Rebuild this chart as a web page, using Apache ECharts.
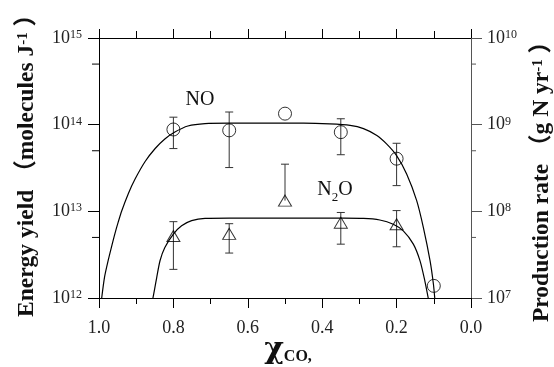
<!DOCTYPE html>
<html>
<head>
<meta charset="utf-8">
<script src="https://cdn.jsdelivr.net/npm/echarts@6/dist/echarts.min.js"></script>
<style>
  html, body { margin: 0; padding: 0; background: #fff; }
  #chart { width: 554px; height: 367px; }
</style>
</head>
<body>
<div id="chart"></div>
<script>
// measured points (x = mole fraction of CO)
var noX = [0.8, 0.65, 0.5, 0.35, 0.2, 0.1];
var noY = [8.8e13, 8.6e13, 1.34e14, 8.2e13, 4.05e13, 1.38e12];
var noHigh = [1.22e14, 1.4e14, null, 1.17e14, 6.1e13, null];
var noLow = [5.3e13, 3.2e13, null, 4.5e13, 1.98e13, null];

var n2oX = [0.8, 0.65, 0.5, 0.35, 0.2];
var n2oY = [5.2e12, 5.5e12, 1.33e13, 7.4e12, 7.1e12];
var n2oHigh = [7.6e12, 7.2e12, 3.5e13, 9.7e12, 1.02e13];
var n2oLow = [2.14e12, 3.3e12, null, 4.18e12, 3.9e12];

// fitted curves
var noFitX = [0.993, 0.985, 0.975, 0.966, 0.957, 0.948, 0.939, 0.921, 0.903, 0.876, 0.849, 0.823, 0.796, 0.761, 0.715, 0.65, 0.55, 0.45, 0.38, 0.325, 0.289, 0.253, 0.227, 0.2, 0.173, 0.146, 0.128, 0.11, 0.101, 0.097];
var noFitY = [9.8e11, 1.75e12, 2.75e12, 3.95e12, 5.58e12, 7.6e12, 1.01e13, 1.61e13, 2.36e13, 3.76e13, 5.31e13, 6.84e13, 8.23e13, 9.66e13, 1.03e14, 1.04e14, 1.04e14, 1.04e14, 1.02e14, 9.8e13, 9.0e13, 7.5e13, 6.0e13, 4.4e13, 2.7e13, 1.33e13, 6.5e12, 2.68e12, 1.44e12, 9.5e11];

var n2oFitX = [0.856, 0.85, 0.845, 0.836, 0.823, 0.8, 0.778, 0.751, 0.715, 0.65, 0.5, 0.35, 0.289, 0.245, 0.209, 0.182, 0.155, 0.137, 0.124, 0.114];
var n2oFitY = [9.5e11, 1.3e12, 1.71e12, 2.69e12, 3.82e12, 5.46e12, 6.8e12, 7.8e12, 8.3e12, 8.36e12, 8.36e12, 8.35e12, 8.3e12, 7.95e12, 7.1e12, 5.95e12, 4.18e12, 2.68e12, 1.57e12, 9.5e11];

// minor ticks at 5 x 10^n on both y axes
var leftMinorTicks = [5e12, 5e13, 5e14];
var rightMinorTicks = [5e7, 5e8, 5e9];

var FONT = 'Liberation Serif';
var TITLE_FONT = '"Liberation Serif", "Noto Sans CJK JP"';

function pairs(xs, ys) {
  return xs.map(function (x, i) { return [x, ys[i]]; });
}
function withErr(xs, ys, hi, lo) {
  var out = [];
  for (var i = 0; i < xs.length; i++) {
    if (hi[i] != null) out.push([xs[i], ys[i], hi[i], lo[i]]);
  }
  return out;
}
function powLabel(v) {
  var e = Math.round(Math.log(v) / Math.LN10);
  return '{b|10}{s|' + e + '}';
}
var powRich = {
  b: { fontFamily: FONT, fontSize: 18, color: '#222', lineHeight: 18 },
  s: { fontFamily: FONT, fontSize: 12, color: '#222', verticalAlign: 'top', lineHeight: 12 }
};

function errorBar(params, api) {
  var x = api.value(0), y = api.value(1), hi = api.value(2), lo = api.value(3);
  var noLow = (lo == null || isNaN(lo));
  var top = api.coord([x, hi]);
  var bot = api.coord([x, noLow ? y : lo]);
  var st = { stroke: '#333', lineWidth: 1 };
  var kids = [
    { type: 'line', shape: { x1: top[0], y1: top[1], x2: bot[0], y2: bot[1] }, style: st },
    { type: 'line', shape: { x1: top[0] - 4, y1: top[1], x2: top[0] + 4, y2: top[1] }, style: st }
  ];
  if (!noLow) {
    kids.push({ type: 'line', shape: { x1: bot[0] - 4, y1: bot[1], x2: bot[0] + 4, y2: bot[1] }, style: st });
  }
  return { type: 'group', children: kids };
}

// short outward tick at the grid edge; x=1 is the left edge (inverse axis), x=0 the right
function minorTick(len, color) {
  return function (params, api) {
    var edge = api.value(0), v = api.value(1);
    var p = api.coord([edge, v]);
    var dir = edge > 0.5 ? -1 : 1;
    return {
      type: 'line',
      shape: { x1: p[0], y1: p[1], x2: p[0] + dir * len, y2: p[1] },
      style: { stroke: color, lineWidth: 1 }
    };
  };
}

var myChart = echarts.init(document.getElementById('chart'));

var option = {
  backgroundColor: '#fff',
  animation: false,
  grid: { left: 99, right: 83, top: 38, bottom: 69 },
  xAxis: [{
    type: 'value', position: 'bottom', min: 0, max: 1, interval: 0.2, inverse: true,
    axisLine: { onZero: false, lineStyle: { color: '#000', width: 1 } },
    axisTick: { length: 10, lineStyle: { color: '#000' } },
    minorTick: { show: true, splitNumber: 2, length: 6, lineStyle: { color: '#000' } },
    axisLabel: { fontFamily: FONT, fontSize: 18, color: '#222', margin: 21,
      formatter: function (v) { return v.toFixed(1); } },
    splitLine: { show: false }
  }, {
    type: 'value', position: 'top', min: 0, max: 1, interval: 0.2, inverse: true,
    axisLine: { onZero: false, lineStyle: { color: '#000', width: 1 } },
    axisTick: { length: 9, lineStyle: { color: '#000' } },
    minorTick: { show: true, splitNumber: 2, length: 7, lineStyle: { color: '#000' } },
    axisLabel: { show: false },
    splitLine: { show: false }
  }],
  yAxis: [{
    type: 'log', logBase: 10, position: 'left', min: 1e12, max: 1e15,
    axisLine: { show: true, onZero: false, lineStyle: { color: '#000' } },
    axisTick: { show: true, length: 11, lineStyle: { color: '#000' } },
    axisLabel: { margin: 17, formatter: powLabel, rich: powRich },
    splitLine: { show: false }
  }, {
    type: 'log', logBase: 10, position: 'right', min: 1e7, max: 1e10,
    axisLine: { show: true, onZero: false, lineStyle: { color: '#555' } },
    axisTick: { show: true, length: 11, lineStyle: { color: '#555' } },
    axisLabel: { margin: 16, formatter: powLabel, rich: powRich },
    splitLine: { show: false }
  }],
  graphic: [{
    type: 'text', x: 27, y: 160, rotation: Math.PI / 2,
    style: {
      text: 'Energy yield （molecules J{sup|-1} ）',
      fontFamily: TITLE_FONT, fontSize: 23.5, fontWeight: 'bold', fill: '#111',
      align: 'center', verticalAlign: 'middle',
      rich: { sup: { fontFamily: FONT, fontSize: 15, fontWeight: 'bold', verticalAlign: 'top' } }
    }
  }, {
    type: 'text', x: 542, y: 176, rotation: Math.PI / 2,
    style: {
      text: 'Production rate （g N yr{sup|-1} ）',
      fontFamily: TITLE_FONT, fontSize: 23.5, fontWeight: 'bold', fill: '#111',
      align: 'center', verticalAlign: 'middle',
      rich: { sup: { fontFamily: FONT, fontSize: 15, fontWeight: 'bold', verticalAlign: 'top' } }
    }
  }, {
    type: 'text', x: 288, y: 350,
    style: {
      text: '{chi|χ}{sub|CO,}',
      fill: '#111', align: 'center', verticalAlign: 'middle',
      rich: {
        chi: { fontFamily: 'DejaVu Serif', fontSize: 30, fontWeight: 'bold', lineHeight: 30 },
        sub: { fontFamily: FONT, fontSize: 16, fontWeight: 'bold', verticalAlign: 'bottom', lineHeight: 22 }
      }
    }
  }, {
    type: 'text', x: 200, y: 100,
    style: { text: 'NO', fontFamily: FONT, fontSize: 20, fill: '#111', align: 'center', verticalAlign: 'middle' }
  }, {
    type: 'text', x: 335, y: 190,
    style: {
      text: 'N{sub|2}O', fontFamily: FONT, fontSize: 20, fill: '#111', align: 'center', verticalAlign: 'middle',
      rich: { sub: { fontFamily: FONT, fontSize: 13, verticalAlign: 'bottom', lineHeight: 28 } }
    }
  }],
  series: [{
    name: 'NO fit', type: 'line', xAxisIndex: 0, yAxisIndex: 0,
    data: pairs(noFitX, noFitY), showSymbol: false, smooth: 0.25,
    lineStyle: { color: '#000', width: 1.2 }, silent: true
  }, {
    name: 'N2O fit', type: 'line', xAxisIndex: 0, yAxisIndex: 0,
    data: pairs(n2oFitX, n2oFitY), showSymbol: false, smooth: 0.25,
    lineStyle: { color: '#000', width: 1.2 }, silent: true
  }, {
    name: 'NO err', type: 'custom', xAxisIndex: 0, yAxisIndex: 0,
    renderItem: errorBar, encode: { x: 0, y: [1, 2, 3] },
    data: withErr(noX, noY, noHigh, noLow)
  }, {
    name: 'N2O err', type: 'custom', xAxisIndex: 0, yAxisIndex: 0,
    renderItem: errorBar, encode: { x: 0, y: [1, 2, 3] },
    data: withErr(n2oX, n2oY, n2oHigh, n2oLow)
  }, {
    name: 'NO', type: 'scatter', xAxisIndex: 0, yAxisIndex: 0,
    data: pairs(noX, noY), symbol: 'circle', symbolSize: 13,
    itemStyle: { color: 'rgba(0,0,0,0)', borderColor: '#000', borderWidth: 1 }
  }, {
    name: 'N2O', type: 'scatter', xAxisIndex: 0, yAxisIndex: 0,
    data: pairs(n2oX, n2oY), symbol: 'triangle', symbolSize: [13, 11],
    itemStyle: { color: 'rgba(0,0,0,0)', borderColor: '#000', borderWidth: 1 }
  }, {
    name: 'left minor ticks', type: 'custom', xAxisIndex: 0, yAxisIndex: 0,
    renderItem: minorTick(7, '#000'), silent: true,
    data: leftMinorTicks.map(function (v) { return [1, v]; })
  }, {
    name: 'right minor ticks', type: 'custom', xAxisIndex: 0, yAxisIndex: 1,
    renderItem: minorTick(5, '#555'), silent: true,
    data: rightMinorTicks.map(function (v) { return [0, v]; })
  }]
};

myChart.setOption(option);
</script>
</body>
</html>
